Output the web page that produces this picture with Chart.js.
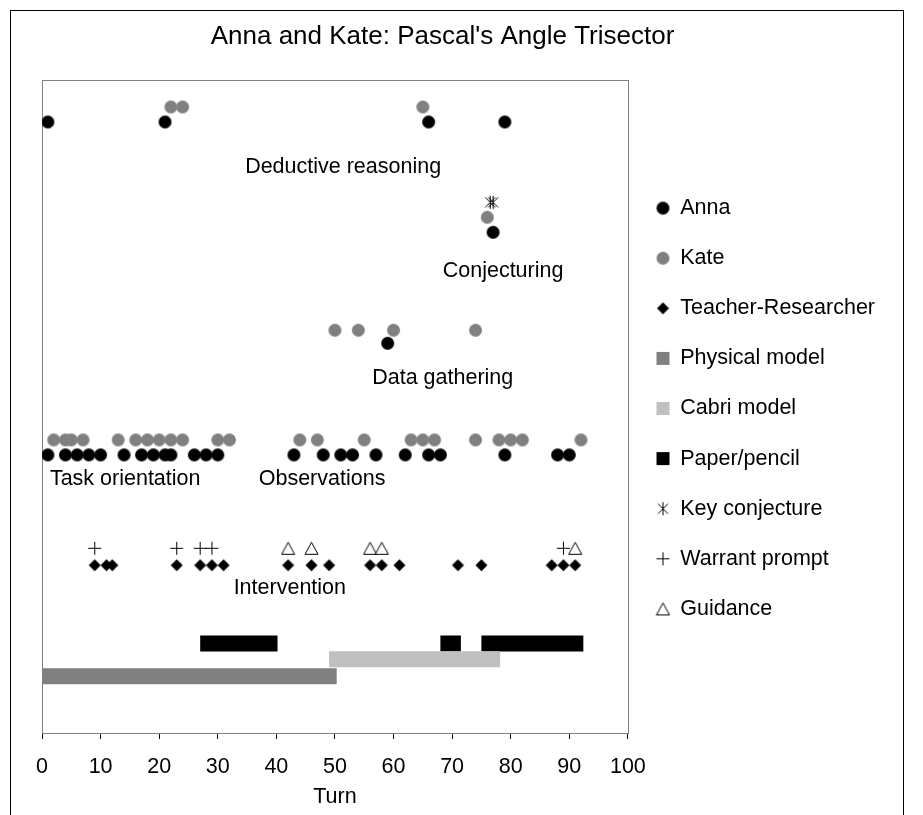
<!DOCTYPE html>
<html>
<head>
<meta charset="utf-8">
<script src="https://cdn.jsdelivr.net/npm/chart.js@4.4.0/dist/chart.umd.min.js"></script>
<style>
  html, body { margin: 0; padding: 0; background: #fff; overflow: hidden; }
  #frame { position: absolute; left: 10px; top: 10px; width: 892px; height: 900px; border: 1px solid #000; }
  #wrap { position: absolute; left: 0; top: 0; }
</style>
</head>
<body>
<div id="frame"></div>
<div id="wrap"><canvas id="chart" width="885" height="815"></canvas></div>
<script>
// Turn numbers for each coded utterance
const annaDeductive = [1, 21, 66, 79];
const kateDeductive = [22, 24, 65];
const annaConjecturing = [77];
const kateConjecturing = [76];
const keyConjecture = [76.5, 77];
const annaDataGathering = [59];
const kateDataGathering = [50, 54, 60, 74];
const annaTaskObs = [1, 4, 6, 8, 10, 14, 17, 19, 21, 22, 26, 28, 30, 43, 48, 51, 53, 57, 62, 66, 68, 79, 88, 90];
const kateTaskObs = [2, 4, 5, 7, 13, 16, 18, 20, 22, 24, 30, 32, 44, 47, 55, 63, 65, 67, 74, 78, 80, 82, 92];
const teacherTurns = [9, 11, 12, 23, 27, 29, 31, 42, 46, 49, 56, 58, 61, 71, 75, 87, 89, 91];
const warrantTurns = [9, 23, 27, 29, 89];
const guidanceTurns = [42, 46, 56, 58, 91];

// Tool use spans [from, to]
const physicalSpans = [[0, 50.3]];
const cabriSpans = [[49, 78.2]];
const paperSpans = [[27, 40.2], [68, 71.5], [75, 92.4]];

// Row levels on the hidden vertical scale (0-100)
const annaDeductiveY = 93.6;
const kateDeductiveY = 95.9;
const keyConjectureY = 81.3;
const kateConjecturingY = 79.0;
const annaConjecturingY = 76.7;
const kateDataY = 61.7;
const annaDataY = 59.7;
const kateTaskY = 44.9;
const annaTaskY = 42.6;
const promptY = 28.3;
const teacherY = 25.7;
const paperY = 13.7;
const cabriY = 11.3;
const physicalY = 8.7;

// Phase captions
const phaseNames = ['Deductive reasoning', 'Conjecturing', 'Data gathering', 'Task orientation', 'Observations', 'Intervention'];
const phaseTurns = [51.4, 78.7, 68.4, 14.2, 47.8, 42.3];
const phaseLevels = [86.7, 70.8, 54.4, 38.9, 38.9, 22.2];

const xTicks = [0, 10, 20, 30, 40, 50, 60, 70, 80, 90, 100];

const FONT = '"Liberation Sans", Arial, sans-serif';
const GREY = '#808080';
const LIGHT = '#c0c0c0';

function pts(turns, y) {
  return turns.map(t => ({ x: t, y: y }));
}

function spans(list, y) {
  let out = [];
  list.forEach((s, i) => {
    if (i > 0) out.push({ x: s[0], y: null });
    out.push({ x: s[0], y: y }, { x: s[1], y: y });
  });
  return out;
}

// small canvases used as markers (data points and legend)
function marker(kind) {
  const c = document.createElement('canvas');
  c.width = 15; c.height = 15;
  const g = c.getContext('2d');
  g.fillStyle = '#000';
  g.strokeStyle = '#000';
  g.lineWidth = 1;
  if (kind === 'anna' || kind === 'kate') {
    g.fillStyle = kind === 'anna' ? '#000' : GREY;
    g.beginPath(); g.arc(7.5, 7.5, 6.5, 0, Math.PI * 2); g.fill();
  } else if (kind === 'diamond') {
    g.beginPath(); g.moveTo(7.5, 1.5); g.lineTo(13.5, 7.5); g.lineTo(7.5, 13.5); g.lineTo(1.5, 7.5); g.closePath(); g.fill();
  } else if (kind === 'physical' || kind === 'cabri' || kind === 'paper') {
    g.fillStyle = kind === 'physical' ? GREY : kind === 'cabri' ? LIGHT : '#000';
    g.fillRect(1, 1, 13, 13);
  } else if (kind === 'star') {
    g.beginPath();
    g.moveTo(7.5, 1); g.lineTo(7.5, 14);
    g.moveTo(2.5, 2.5); g.lineTo(12.5, 12.5);
    g.moveTo(12.5, 2.5); g.lineTo(2.5, 12.5);
    g.stroke();
  } else if (kind === 'plus') {
    g.beginPath();
    g.moveTo(1, 7.5); g.lineTo(14, 7.5);
    g.moveTo(7.5, 1); g.lineTo(7.5, 14);
    g.stroke();
  } else if (kind === 'triangle') {
    g.fillStyle = '#fff';
    g.beginPath(); g.moveTo(7.5, 1.5); g.lineTo(14, 13.5); g.lineTo(1, 13.5); g.closePath();
    g.fill(); g.stroke();
  }
  return c;
}

// frame around the plotting area
const plotFrame = {
  id: 'plotFrame',
  afterLayout(chart) {
    // nudge the legend column up a little
    chart.legend.top -= 3;
    chart.legend.bottom -= 3;
  },
  beforeDatasetsDraw(chart) {
    const a = chart.chartArea;
    const ctx = chart.ctx;
    ctx.save();
    ctx.strokeStyle = GREY;
    ctx.lineWidth = 1;
    ctx.strokeRect(Math.round(a.left) + 0.5, Math.round(a.top) + 0.5, Math.round(a.right - a.left), Math.round(a.bottom - a.top));
    ctx.restore();
  }
};

const phaseCaptions = {
  id: 'phaseCaptions',
  afterDatasetsDraw(chart) {
    const { ctx, scales: { x, y } } = chart;
    ctx.save();
    ctx.font = '21.5px ' + FONT;
    ctx.fillStyle = '#000';
    ctx.textAlign = 'center';
    ctx.textBaseline = 'middle';
    phaseNames.forEach((name, i) => {
      ctx.fillText(name, x.getPixelForValue(phaseTurns[i]), y.getPixelForValue(phaseLevels[i]));
    });
    ctx.restore();
  }
};

const barLine = (label, kind, data, color) => ({
  label: label,
  data: data,
  showLine: true,
  spanGaps: false,
  borderColor: color,
  borderWidth: 16,
  borderCapStyle: 'butt',
  pointRadius: 0,
  pointStyle: marker(kind)
});

const dotSet = (label, kind, data) => ({
  label: label,
  data: data,
  showLine: false,
  pointRadius: 6,
  pointStyle: marker(kind)
});

new Chart('chart', {
  type: 'scatter',
  data: {
    datasets: [
      dotSet('Anna', 'anna', [].concat(
        pts(annaDeductive, annaDeductiveY), pts(annaConjecturing, annaConjecturingY),
        pts(annaDataGathering, annaDataY), pts(annaTaskObs, annaTaskY))),
      dotSet('Kate', 'kate', [].concat(
        pts(kateDeductive, kateDeductiveY), pts(kateConjecturing, kateConjecturingY),
        pts(kateDataGathering, kateDataY), pts(kateTaskObs, kateTaskY))),
      dotSet('Teacher-Researcher', 'diamond', pts(teacherTurns, teacherY)),
      barLine('Physical model', 'physical', spans(physicalSpans, physicalY), GREY),
      barLine('Cabri model', 'cabri', spans(cabriSpans, cabriY), LIGHT),
      barLine('Paper/pencil', 'paper', spans(paperSpans, paperY), '#000'),
      dotSet('Key conjecture', 'star', pts(keyConjecture, keyConjectureY)),
      dotSet('Warrant prompt', 'plus', pts(warrantTurns, promptY)),
      dotSet('Guidance', 'triangle', pts(guidanceTurns, promptY))
    ]
  },
  options: {
    responsive: false,
    animation: false,
    events: [],
    layout: { padding: { top: 13, bottom: 5, left: 0, right: 0 } },
    plugins: {
      tooltip: { enabled: false },
      title: {
        display: true,
        text: "Anna and Kate: Pascal's Angle Trisector",
        color: '#000',
        font: { size: 26, family: FONT, weight: 'normal' },
        padding: { top: 8, bottom: 28 }
      },
      legend: {
        position: 'right',
        maxWidth: 300,
        labels: {
          usePointStyle: true,
          boxWidth: 13,
          boxHeight: 13,
          padding: 28.6,
          color: '#000',
          font: { size: 21.5, family: FONT }
        }
      }
    },
    scales: {
      x: {
        type: 'linear',
        min: 0,
        max: 100,
        afterBuildTicks: axis => { axis.ticks = xTicks.map(v => ({ value: v })); },
        afterFit: axis => { axis.height = 77; },
        ticks: { color: '#000', font: { size: 21.5, family: FONT }, padding: 15, maxRotation: 0 },
        grid: { drawOnChartArea: false, drawTicks: true, tickLength: 6, color: '#000' },
        border: { color: '#000', width: 1 },
        title: { display: true, text: 'Turn', color: '#000', font: { size: 21.5, family: FONT }, padding: { top: 0, bottom: 0 } }
      },
      y: {
        type: 'linear',
        min: 0,
        max: 100,
        ticks: { display: false },
        grid: { display: false },
        border: { color: '#000', width: 1 },
        afterFit: axis => { axis.width = 42; }
      }
    }
  },
  plugins: [plotFrame, phaseCaptions]
});
</script>
</body>
</html>
